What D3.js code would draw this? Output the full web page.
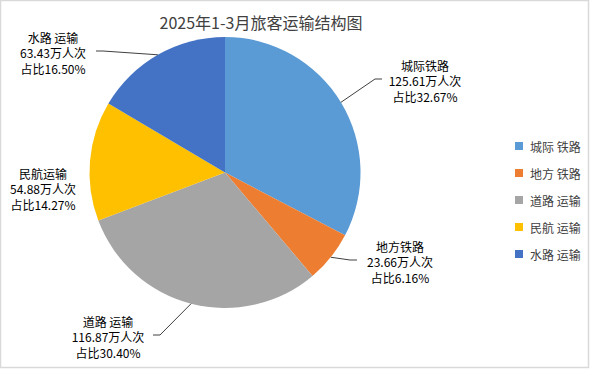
<!DOCTYPE html>
<html lang="zh">

<head>
    <meta charset="UTF-8" />
    <script src="https://d3js.org/d3.v7.min.js"></script>
    <title>2025年1-3月旅客运输结构图</title>
    <style>
        body {
            margin: 0;
            background: #fff;
        }

        svg {
            display: block;
            font-family: "Noto Sans CJK SC", sans-serif;
        }
    </style>
</head>

<body>
    <svg width="590" height="370"></svg>
</body>
<script>
    // 데이터
    const categories = ["城际铁路", "地方铁路", "道路运输", "民航运输", "水路运输"]
    const legendNames = ["城际 铁路", "地方 铁路", "道路 运输", "民航 运输", "水路 运输"]
    const labelNames = ["城际铁路", "地方铁路", "道路 运输", "民航运输", "水路 运输"]
    const values = [125.61, 23.66, 116.87, 54.88, 63.43]
    const shares = ["32.67%", "6.16%", "30.40%", "14.27%", "16.50%"]
    const colors = ["#5B9BD5", "#ED7D31", "#A5A5A5", "#FFC000", "#4472C4"]

    // 라벨 위치 (가운데 줄 중심), side: 선이 붙는 방향
    const labelPos = [
        { x: 425, y: 80, line: true, side: 1 },
        { x: 400, y: 261, line: true, side: 1 },
        { x: 108, y: 336, line: true, side: -1 },
        { x: 43, y: 188, line: false, side: -1 },
        { x: 53, y: 52, line: true, side: -1 }
    ]

    const width = 590
    const height = 370
    const cx = 225, cy = 172.5, r = 135.5

    const svg = d3.select("svg")

    svg.append("rect").attr("x", 0.5).attr("y", 0.5).attr("width", width - 2).attr("height", height - 3)
        .attr("fill", "#fff").attr("stroke", "#d9d9d9").attr("stroke-width", 1.5)

    svg.append("text").attr("x", 261).attr("y", 22).attr("text-anchor", "middle").attr("dominant-baseline", "central")
        .attr("font-size", 16).attr("fill", "#404040").text("2025年1-3月旅客运输结构图")

    const pie = d3.pie().sort(null).value(d => d)
    const arcs = pie(values)
    const arc = d3.arc().innerRadius(0).outerRadius(r)

    const g = svg.append("g").attr("transform", `translate(${cx},${cy})`)
    g.selectAll("path").data(arcs).enter().append("path")
        .attr("d", arc).attr("fill", (d, i) => colors[i])

    // 리더 선
    const edge = d => {
        const a = (d.startAngle + d.endAngle) / 2
        return [cx + r * Math.sin(a), cy - r * Math.cos(a)]
    }
    const textHalf = [36, 36, 38, 36, 36]
    svg.append("g").selectAll("polyline").data(arcs.filter((d, i) => labelPos[i].line)).enter().append("polyline")
        .attr("fill", "none").attr("stroke", "#404040").attr("stroke-width", 1)
        .attr("points", d => {
            const i = d.index
            const p = labelPos[i]
            const e = edge(d)
            const endX = p.x - p.side * (textHalf[i] + 7)
            const elbowX = endX - p.side * 7
            return [e, [elbowX, p.y - 1], [endX, p.y - 1]].map(q => q.join(",")).join(" ")
        })

    const labels = svg.append("g").attr("font-size", 12).attr("fill", "#000").attr("text-anchor", "middle")
    arcs.forEach((d, i) => {
        const p = labelPos[i]
        const lines = [labelNames[i], values[i].toFixed(2) + "万人次", "占比" + shares[i]]
        labels.append("text").attr("x", p.x).attr("dominant-baseline", "central")
            .selectAll("tspan").data(lines).enter().append("tspan")
            .attr("x", p.x).attr("y", (t, j) => p.y + (j - 1) * 15.5).text(t => t)
    })

    // 범례
    const legend = svg.append("g").attr("font-size", 12).attr("fill", "#404040")
    const ly = d3.scalePoint().domain(categories).range([146, 254])
    legend.selectAll("rect").data(categories).enter().append("rect")
        .attr("x", 515).attr("y", d => ly(d) - 4).attr("width", 8).attr("height", 8)
        .attr("fill", (d, i) => colors[i])
    legend.selectAll("text").data(categories).enter().append("text")
        .attr("x", 530).attr("y", d => ly(d)).attr("dominant-baseline", "central")
        .text((d, i) => legendNames[i])
</script>

</html>
